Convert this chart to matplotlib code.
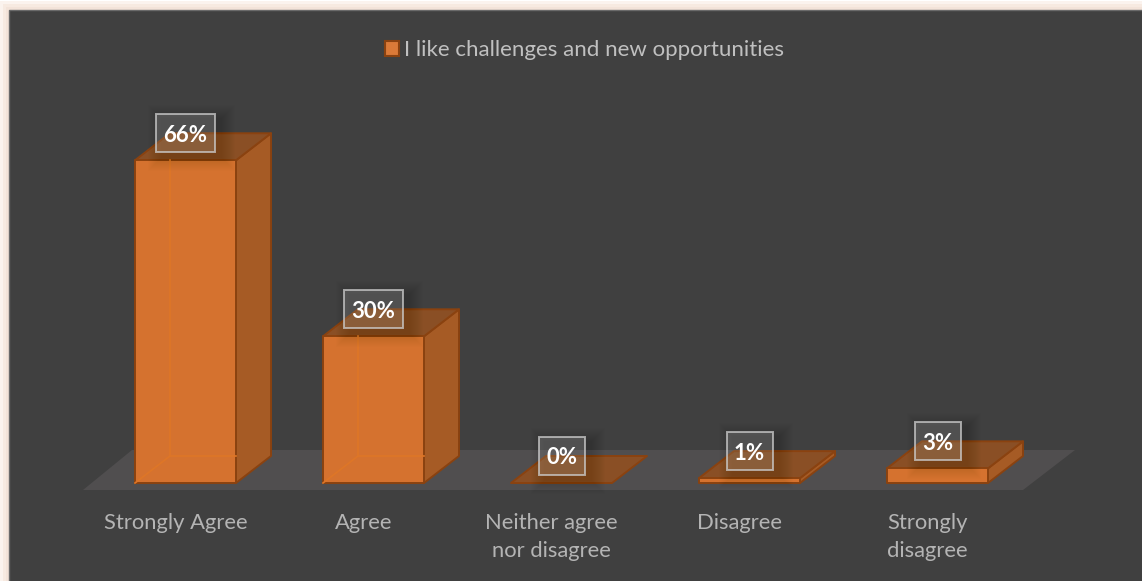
import matplotlib
matplotlib.use('Agg')
import matplotlib.pyplot as plt
from matplotlib.patches import Polygon, Rectangle

categories = ['Strongly Agree', 'Agree', 'Neither agree\nnor disagree', 'Disagree', 'Strongly\ndisagree']
values = [66, 30, 0, 1, 3]
series_name = 'I like challenges and new opportunities'

W, H = 1142, 581
PX_X = 188.0    # pixels per category
PX_Y = 4.89     # pixels per percent
X0, Y0 = 185.5, 483.0

BAR_W = 101 / PX_X
DX = 35 / PX_X
DY = 27 / PX_Y

FRONT = '#D5722F'
SIDE = '#A65B25'
TOP = '#8A4F25'
EDGE = '#8A4210'
INNER = '#DE7627'
PANEL = '#404040'
TEXT = '#B4B4B4'

plt.rcParams['font.family'] = ['Lato', 'DejaVu Sans']

fig = plt.figure(figsize=(W / 100, H / 100), dpi=100, facecolor='white')

# frame, glow, floor and legend live in pixel coordinates
bg = fig.add_axes([0, 0, 1, 1])
bg.set_xlim(0, W)
bg.set_ylim(H, 0)
bg.axis('off')

for grow, col in [(9, '#FBF3EE'), (6, '#F7EAE1'), (3, '#F3E3D9')]:
    bg.add_patch(Rectangle((9 - grow, 10 - grow), W + 2 * grow, H + 2 * grow, fc=col, ec='none'))
bg.add_patch(Rectangle((9, 10), W, H, fc=PANEL, ec='#6A6A6A', lw=1))
bg.add_patch(Polygon([(83, 490), (132, 450), (1075, 450), (1023, 490)], fc='#504E4F', ec='none'))

bg.add_patch(Rectangle((385, 41), 14, 15, fc='#DB7A38', ec=EDGE, lw=1.5))
bg.text(404, 50, series_name, color='#C0C0C0', fontsize=16, va='center', ha='left')

# bars in value coordinates
ax = fig.add_axes([0, 0, 1, 1], facecolor='none')
ax.set_xlim(-X0 / PX_X, (W - X0) / PX_X)
ax.set_ylim(-(H - Y0) / PX_Y, Y0 / PX_Y)
ax.axis('off')


def draw_bar(i, v):
    l, r = i - BAR_W / 2, i + BAR_W / 2
    kw = dict(ec=EDGE, lw=1.4, joinstyle='round')
    if v > 0:
        # right side
        ax.add_patch(Polygon([(r, 0), (r + DX, DY), (r + DX, v + DY), (r, v)], fc=SIDE, **kw))
    # top
    ax.add_patch(Polygon([(l, v), (r, v), (r + DX, v + DY), (l + DX, v + DY)], fc=TOP, **kw))
    if v > 0:
        ax.add_patch(Rectangle((l, 0), BAR_W, v, fc=FRONT, **kw))
    if v > 5:
        # far edges showing through the front face
        ax.plot([l + DX, l + DX], [DY, v], color=INNER, lw=1.2)
        ax.plot([l, l + DX, r], [0, DY, DY], color=INNER, lw=1.2)


def draw_label(i, v):
    txt = f'{v}%'
    w = (59 if v >= 10 else 46) / PX_X
    h = 38 / PX_Y
    cy = v + 27 / PX_Y
    # soft shadow under the box, pushed a little to the lower right
    for g in range(1, 15):
        ax.add_patch(Rectangle((i - w / 2 - g / PX_X + 6 / PX_X, cy - h / 2 - g / PX_Y - 5 / PX_Y),
                               w + 2 * g / PX_X, h + 2 * g / PX_Y,
                               fc='black', ec='none', alpha=0.007, zorder=4))
    ax.add_patch(Rectangle((i - w / 2, cy - h / 2), w, h, fc=(1, 1, 1, 0.15), ec=(0.8, 0.8, 0.8, 0.75), lw=1.4, zorder=5))
    ax.text(i, cy - 2 / PX_Y, txt, color='white', fontsize=16, fontweight='bold', ha='center', va='center', zorder=6)


for i, v in enumerate(values):
    draw_bar(i, v)
for i, v in enumerate(values):
    draw_label(i, v)

# category labels
for i, c in enumerate(categories):
    ax.text(i - 10 / PX_X, -(513 - Y0) / PX_Y, c, color=TEXT, fontsize=15.8, ha='center', va='top', linespacing=1.5)

fig.savefig('out.png', dpi=100)
